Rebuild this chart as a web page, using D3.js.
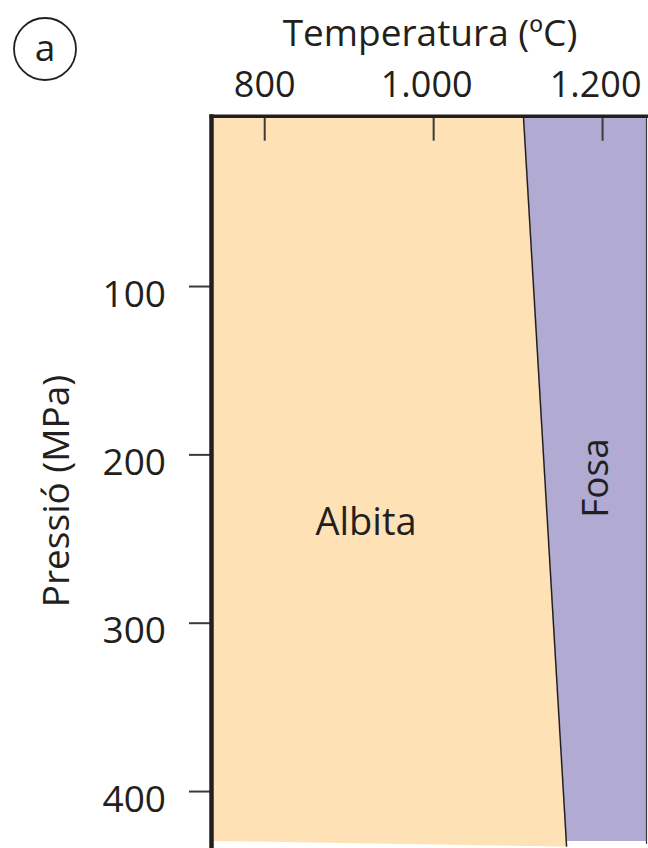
<!DOCTYPE html>
<html>
<head>
<meta charset="utf-8">
<script src="https://cdn.jsdelivr.net/npm/d3@7"></script>
<style>
  html, body { margin: 0; padding: 0; background: #fff; }
  svg { display: block; }
  text { font-family: "Open Sans", "Noto Sans", sans-serif; font-weight: 400; fill: #231f20; }
</style>
</head>
<body>
<svg id="chart" width="648" height="848"></svg>
<script>
// Axis ranges (temperature in ºC, pressure in MPa)
const tempDomain = [737, 1252];
const pressDomain = [0, 433];
const tempTicks = [800, 1000, 1200];
const pressTicks = [100, 200, 300, 400];

// Albite melting curve: temperature at a given pressure
const meltP = [0, 433];
const meltT = [1107, 1158];

// Lower cut of the shaded field
const baseP = 429.6;

// Field labels
const fieldNames = ["Albita", "Fosa"];
const fieldColors = ["#fee2b6", "#b1aad3"];

const svg = d3.select("#chart");
const W = 648, H = 848;
const plot = { left: 211, right: 646, top: 117.7, bottom: 846.6 };

const x = d3.scaleLinear().domain(tempDomain).range([plot.left, plot.right]);
const y = d3.scaleLinear().domain(pressDomain).range([plot.top, plot.bottom]);

const curve = meltP.map((p, i) => [meltT[i], p]);
const line = d3.line().x(d => x(d[0])).y(d => y(d[1]));
const last = curve[curve.length - 1];

// Solid (albite) field: left of the melting curve
const solidPoly = [[tempDomain[0], 0], ...curve, [tempDomain[0], baseP]];
// Melt field: right of the melting curve
const meltPoly = [curve[0], last, [last[0], baseP], [tempDomain[1], baseP], [tempDomain[1], 0]];

svg.append("path")
  .attr("d", line(meltPoly) + "Z")
  .attr("fill", fieldColors[1]);
svg.append("path")
  .attr("d", line(solidPoly) + "Z")
  .attr("fill", fieldColors[0]);

// Melting curve
svg.append("path")
  .attr("d", line(curve))
  .attr("fill", "none")
  .attr("stroke", "#231f20")
  .attr("stroke-width", 1.5);

// Thousands separator as in Catalan
const fmt = d3.formatLocale({ decimal: ",", thousands: ".", grouping: [3], currency: ["", " €"] }).format(",");

// Top temperature axis, ticks pointing into the plot
const topAxis = svg.append("g")
  .attr("transform", `translate(0,${plot.top})`)
  .call(d3.axisTop(x).tickValues(tempTicks).tickFormat(fmt)
    .tickSizeInner(-23).tickSizeOuter(0).tickPadding(21));
topAxis.select(".domain").remove();
topAxis.selectAll(".tick line").attr("stroke", "#3a3a3a").attr("stroke-width", 2);
topAxis.selectAll(".tick text")
  .attr("font-size", 36).attr("fill", "#231f20")
  .attr("dx", d => d >= 1000 ? -7 : 0)
  .style("font-family", '"Open Sans", sans-serif');

// Left pressure axis, ticks pointing outward
const leftAxis = svg.append("g")
  .attr("transform", `translate(${plot.left},0)`)
  .call(d3.axisLeft(y).tickValues(pressTicks).tickFormat(fmt)
    .tickSizeInner(22).tickSizeOuter(0).tickPadding(23));
leftAxis.select(".domain").remove();
leftAxis.selectAll(".tick line").attr("stroke", "#3a3a3a").attr("stroke-width", 2);
leftAxis.selectAll(".tick text")
  .attr("font-size", 37).attr("fill", "#231f20").attr("dy", 20)
  .style("font-family", '"Open Sans", sans-serif');

// Frame
svg.append("line")
  .attr("x1", plot.left + 0.5).attr("x2", plot.left + 0.5)
  .attr("y1", plot.top - 3.5).attr("y2", H)
  .attr("stroke", "#231f20").attr("stroke-width", 4.5);
svg.append("line")
  .attr("x1", plot.left - 1.5).attr("x2", W)
  .attr("y1", plot.top - 1.5).attr("y2", plot.top - 1.5)
  .attr("stroke", "#231f20").attr("stroke-width", 3.5);
svg.append("line")
  .attr("x1", plot.right + 0.5).attr("x2", plot.right + 0.5)
  .attr("y1", plot.top).attr("y2", y(baseP) + 3)
  .attr("stroke", "#3a3a3a").attr("stroke-width", 1.2);

// Axis titles
svg.append("text")
  .attr("x", 430).attr("y", 46)
  .attr("text-anchor", "middle").attr("font-size", 37)
  .text("Temperatura (ºC)");
svg.append("text")
  .attr("transform", "translate(69,491) rotate(-90)")
  .attr("text-anchor", "middle").attr("font-size", 37)
  .text("Pressió (MPa)");

// Field labels
svg.append("text")
  .attr("x", 366).attr("y", 535)
  .attr("text-anchor", "middle").attr("font-size", 38)
  .text(fieldNames[0]);
svg.append("text")
  .attr("transform", "translate(608,478) rotate(-90)")
  .attr("text-anchor", "middle").attr("font-size", 37)
  .text(fieldNames[1]);

// Panel marker
svg.append("circle")
  .attr("cx", 45).attr("cy", 49).attr("r", 31)
  .attr("fill", "none").attr("stroke", "#231f20").attr("stroke-width", 1.8);
svg.append("text")
  .attr("x", 45).attr("y", 61)
  .attr("text-anchor", "middle").attr("font-size", 37)
  .text("a");
</script>
</body>
</html>
